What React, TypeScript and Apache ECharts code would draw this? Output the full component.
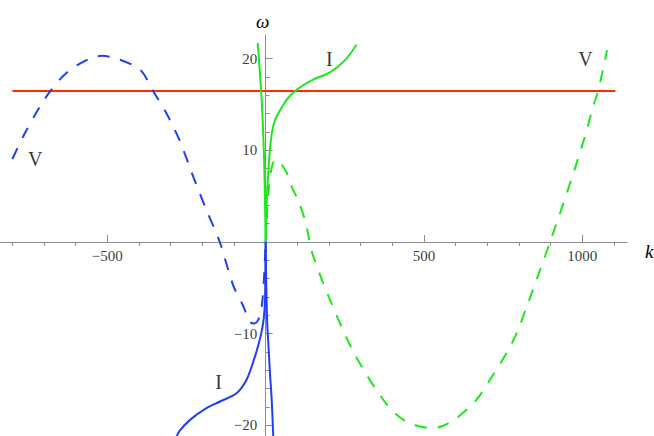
import React, { useEffect, useRef } from "react";
import * as echarts from "echarts";

// ---- data ----
const blueDashK = [-800, -763, -714, -679, -624, -555, -518, -471, -397, -356, -313, -271, -234, -191, -145, -103, -72, -50, -38, -27, -18, -11, -5, 0];
const blueDashW = [9.05, 11.7, 14.7, 16.5, 18.6, 20.0, 20.3, 20.0, 18.8, 16.5, 14.0, 11.0, 7.6, 3.8, 0, -4.7, -6.9, -8.7, -8.9, -8.7, -8.0, -6.6, -3.8, 0];

const greenDashK = [0, 5, 10, 16, 23, 32, 42, 51, 67, 86, 102, 127, 146, 203, 282, 382, 445, 524, 556, 603, 666, 718, 761, 792, 824, 867, 898, 940, 982, 1014, 1034, 1050, 1078];
const greenDashW = [0, 3.5, 5.8, 7.6, 8.6, 9.0, 8.8, 8.4, 7.5, 5.7, 4.6, 2.0, -1.1, -6.3, -12.3, -17.7, -19.6, -20.3, -20.1, -19.2, -17.2, -14.5, -12.1, -10.0, -7.1, -3.0, 0, 4.2, 8.6, 12.2, 14.8, 16.5, 20.9];

const greenSolidRightK = [0, 1, 4, 9, 16, 25, 35, 66, 98, 150, 203, 250, 287];
const greenSolidRightW = [0, 2, 5, 8, 11, 12.8, 13.7, 15.5, 16.6, 17.7, 18.5, 19.8, 21.5];

const greenSolidLeftK = [0, -2, -4.4, -8, -12.6, -19, -25];
const greenSolidLeftW = [0, 4, 8.2, 12, 15.5, 18.8, 21.7];

const blueSolidLeftK = [0, -1, -2, -6, -13, -23, -34, -60, -92, -144, -186, -239, -272, -282];
const blueSolidLeftW = [0, -3, -6.3, -8.3, -9.8, -11.2, -12.5, -15.0, -16.5, -17.4, -18.1, -19.4, -20.6, -21.3];

const blueSolidRightK = [0, 1, 2.5, 5, 8.3, 13, 19, 24];
const blueSolidRightW = [0, -3, -6, -9, -11, -14, -17.2, -21.3];

const redK = [-800, 1104];
const redW = 16.47;

const labelTexts = ["V", "I", "V", "I"];
const labelK = [-728, 201, 1010, -149];
const labelW = [9.05, 20.0, 20.0, -15.3];

const kMajorTicks = [-500, 500, 1000];
const kMinorTicks = [-800, -700, -600, -400, -300, -200, -100, 100, 200, 300, 400, 600, 700, 800, 900, 1100];
const wMajorTicks = [-20, -10, 10, 20];
const wMinorTicks = [-18, -16, -14, -12, -8, -6, -4, -2, 2, 4, 6, 8, 12, 14, 16, 18];

const K_MIN = -839;
const K_MAX = 1141;
const W_MIN = -21.16;
const W_MAX = 22.57;

const BLUE = "#1f3ef5";
const GREEN = "#1fe61f";
const RED = "#ff2a00";
const AXIS = "#8c8c8c";
const SERIF = "'Liberation Serif', 'Times New Roman', serif";

const zip = (ks: number[], ws: number[]) => ks.map((k, i) => [k, ws[i]]);
const fmt = (v: number) => String(v).replace("-", "\u2212");

export default function App() {
  const ref = useRef<HTMLDivElement>(null);
  useEffect(() => {
    if (!ref.current) return;
    const chart = echarts.init(ref.current, null, { renderer: "svg" });
    const lineBase = (data: number[][], color: string, dashed: boolean) => ({
      type: "line",
      data,
      showSymbol: false,
      symbol: "none",
      smooth: 0.3,
      xAxisIndex: 0,
      yAxisIndex: 0,
      lineStyle: { color, width: 2, type: dashed ? [12, 11] : "solid" },
      silent: true,
      z: 3,
    });
    const tickText = (data: any[], position: string, distance: number) => ({
      type: "scatter",
      data,
      symbolSize: 1,
      itemStyle: { color: "rgba(0,0,0,0)" },
      silent: true,
      clip: false,
      label: {
        show: true,
        position,
        distance,
        formatter: "{b}",
        fontFamily: SERIF,
        fontSize: 15,
        color: "#000",
      },
      z: 4,
    });
    const option: any = {
      animation: false,
      backgroundColor: "#ffffff",
      grid: { left: 0, right: 27, top: 35, bottom: 0, containLabel: false, outerBoundsMode: "none" },
      xAxis: [
        {
          type: "value",
          min: K_MIN,
          max: K_MAX,
          axisLine: { show: true, onZero: true, lineStyle: { color: AXIS, width: 1 } },
          axisTick: { show: true, inside: true, length: 7, customValues: kMajorTicks, lineStyle: { color: AXIS, width: 1 } },
          axisLabel: { show: false },
          splitLine: { show: false },
          name: "k",
          nameLocation: "end",
          nameGap: 18,
          nameTextStyle: { fontFamily: SERIF, fontStyle: "italic", fontSize: 19, color: "#000", verticalAlign: "top" },
        },
        {
          type: "value",
          min: K_MIN,
          max: K_MAX,
          axisLine: { show: false, onZero: true },
          axisTick: { show: true, inside: true, length: 4, customValues: kMinorTicks, lineStyle: { color: AXIS, width: 1 } },
          axisLabel: { show: false },
          splitLine: { show: false },
        },
      ],
      yAxis: [
        {
          type: "value",
          min: W_MIN,
          max: W_MAX,
          axisLine: { show: true, onZero: true, lineStyle: { color: AXIS, width: 1 } },
          axisTick: { show: true, inside: true, length: 7, customValues: wMajorTicks, lineStyle: { color: AXIS, width: 1 } },
          axisLabel: { show: false },
          splitLine: { show: false },
          name: "\u03c9",
          nameLocation: "end",
          nameGap: 4,
          nameTextStyle: { fontFamily: SERIF, fontStyle: "italic", fontSize: 19, color: "#000", padding: [0, 6, 0, 0] },
        },
        {
          type: "value",
          min: W_MIN,
          max: W_MAX,
          position: "left",
          axisLine: { show: false, onZero: true },
          axisTick: { show: true, inside: true, length: 4, customValues: wMinorTicks, lineStyle: { color: AXIS, width: 1 } },
          axisLabel: { show: false },
          splitLine: { show: false },
        },
      ],
      series: [
        {
          type: "line",
          data: redK.map((k) => [k, redW]),
          showSymbol: false,
          symbol: "none",
          lineStyle: { color: RED, width: 2 },
          silent: true,
          z: 2,
        },
        lineBase(zip(blueDashK, blueDashW), BLUE, true),
        lineBase(zip(greenDashK, greenDashW), GREEN, true),
        lineBase(zip(greenSolidRightK, greenSolidRightW), GREEN, false),
        lineBase(zip(greenSolidLeftK, greenSolidLeftW), GREEN, false),
        lineBase(zip(blueSolidLeftK, blueSolidLeftW), BLUE, false),
        lineBase(zip(blueSolidRightK, blueSolidRightW), BLUE, false),
        tickText(kMajorTicks.map((v) => ({ name: fmt(v), value: [v, 0] })), "bottom", 6),
        tickText(wMajorTicks.map((v) => ({ name: fmt(v), value: [0, v] })), "left", 8),
        {
          type: "scatter",
          data: labelTexts.map((t, i) => ({ name: t, value: [labelK[i], labelW[i]] })),
          symbolSize: 1,
          itemStyle: { color: "rgba(0,0,0,0)" },
          silent: true,
          label: {
            show: true,
            position: "inside",
            formatter: "{b}",
            fontFamily: SERIF,
            fontSize: 20,
            color: "#000",
          },
          z: 5,
        },
      ],
    };
    chart.setOption(option);
    return () => chart.dispose();
  }, []);
  return (
    <div
      ref={ref}
      style={{ position: "fixed", left: 0, top: 0, width: 654, height: 436, background: "#fff" }}
    />
  );
}
